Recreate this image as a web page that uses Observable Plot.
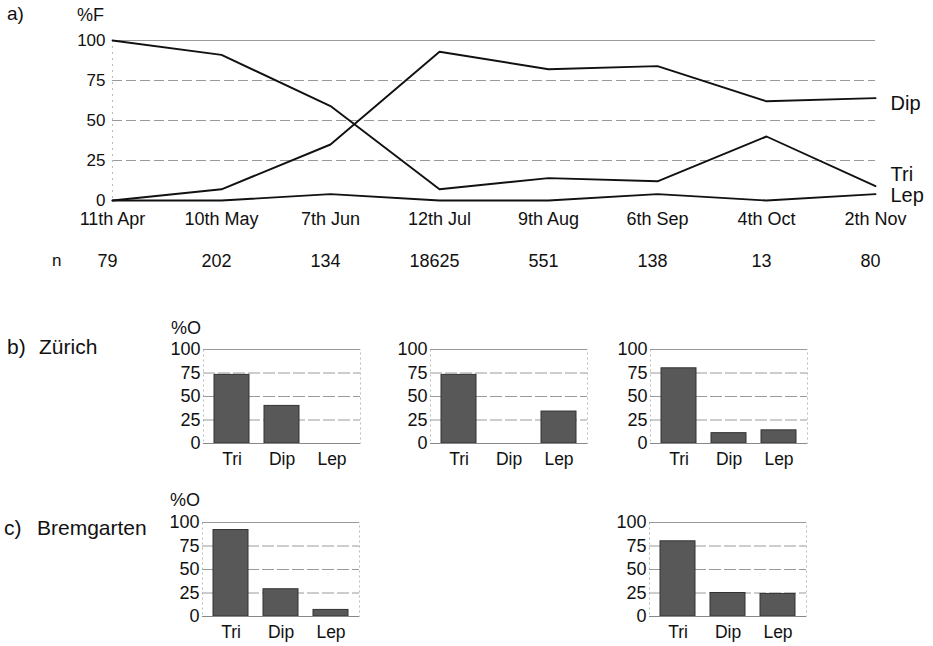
<!DOCTYPE html>
<html><head><meta charset="utf-8">
<script src="https://cdn.jsdelivr.net/npm/d3@7"></script>
<script src="https://cdn.jsdelivr.net/npm/@observablehq/plot@0.6"></script>
<style>
body{margin:0;background:#fff;font-family:"Liberation Sans",Arial,sans-serif;}
#root{position:relative;width:933px;height:646px;overflow:hidden;background:#fff;}
.lab{position:absolute;white-space:nowrap;color:#111;line-height:1;}
.chart{position:absolute;}
</style></head><body><div id="root"></div>
<script>
// ---- data: panel a) ----
const dates = ["11th Apr","10th May","7th Jun","12th Jul","9th Aug","6th Sep","4th Oct","2th Nov"];
const nValues = [79, 202, 134, 18625, 551, 138, 13, 80];
const triF = [100, 91, 59, 7, 14, 12, 40, 9];
const dipF = [0, 7, 35, 93, 82, 84, 62, 64];
const lepF = [0, 0, 4, 0, 0, 4, 0, 4];
const seriesNames = ["Tri", "Dip", "Lep"];
const yTicks = [0, 25, 50, 75, 100];

// ---- data: panels b) and c) ----
const taxa = ["Tri", "Dip", "Lep"];
const zurich1 = [73, 40, 0];
const zurich2 = [73, 0, 34];
const zurich3 = [80, 11, 14];
const bremgarten1 = [92, 29, 7];
const bremgarten3 = [80, 25, 24];

const FONT = '"Liberation Sans", Arial, sans-serif';
const root = document.getElementById("root");

function label(text, left, topPx, size) {
  const d = document.createElement("div");
  d.className = "lab";
  d.textContent = text;
  d.style.left = left + "px";
  d.style.top = topPx + "px";
  d.style.fontSize = size + "px";
  root.appendChild(d);
}
function place(el, left, topPx) {
  el.classList.add("chart");
  el.style.left = left + "px";
  el.style.top = topPx + "px";
  root.appendChild(el);
}

// ---- panel a) line chart ----
const allSeries = [triF, dipF, lepF];
const long = [];
seriesNames.forEach((s, k) => allSeries[k].forEach((v, i) => long.push({series: s, date: dates[i], value: v})));
const ends = seriesNames.map((s, k) => ({name: s, date: dates[dates.length - 1], value: allSeries[k][dates.length - 1]}));

const lineChart = Plot.plot({
  width: 933, height: 280,
  marginLeft: 112, marginRight: 58, marginTop: 40, marginBottom: 80,
  style: {fontFamily: FONT, fontSize: "17px", color: "#111", background: "transparent", overflow: "visible"},
  x: {type: "point", domain: dates, padding: 0, label: null},
  y: {domain: [0, 100], label: null},
  marks: [
    Plot.ruleY([25, 50, 75], {stroke: "#9a9a9a", strokeWidth: 1, strokeDasharray: "10,4"}),
    Plot.ruleY([100], {stroke: "#9a9a9a", strokeWidth: 1}),
    Plot.ruleX([dates[0]], {stroke: "#bbb", strokeDasharray: "2,4"}),
    Plot.axisY({ticks: yTicks, tickSize: 0, tickPadding: 7, fontSize: 17, label: null}),
    Plot.axisX({tickSize: 0, tickPadding: 12, fontSize: 18, label: null}),
    Plot.axisX({tickSize: 0, tickPadding: 54, fontSize: 18, dx: -5, label: null,
      tickFormat: d => String(nValues[dates.indexOf(d)])}),
    Plot.lineY(long, {x: "date", y: "value", z: "series", stroke: "#111", strokeWidth: 1.9}),
    Plot.text(ends.filter(d => d.name === "Dip"), {x: "date", y: "value", text: "name", textAnchor: "start", dx: 15, dy: 5, fontSize: 20, fill: "#111"}),
    Plot.text(ends.filter(d => d.name === "Tri"), {x: "date", y: "value", text: "name", textAnchor: "start", dx: 15, dy: -12, fontSize: 20, fill: "#111"}),
    Plot.text(ends.filter(d => d.name === "Lep"), {x: "date", y: "value", text: "name", textAnchor: "start", dx: 15, dy: 1, fontSize: 20, fill: "#111"})
  ]
});
place(lineChart, 0, 0);

label("a)", 7, 4, 19);
label("%F", 77, 6, 18);
label("n", 52, 252, 17);

// ---- bar charts ----
function barChart(values) {
  const rows = taxa.map((t, i) => ({taxon: t, value: values[i]}));
  return Plot.plot({
    width: 205, height: 138,
    marginLeft: 42, marginRight: 6, marginTop: 10, marginBottom: 34,
    style: {fontFamily: FONT, fontSize: "18px", color: "#111", background: "transparent", overflow: "visible"},
    x: {type: "band", domain: taxa, paddingInner: 0.3, paddingOuter: 0.2, label: null},
    y: {domain: [0, 100], label: null},
    marks: [
      Plot.frame({stroke: "#bbb", strokeDasharray: "2,3"}),
      Plot.ruleY([25, 50, 75], {stroke: "#9a9a9a", strokeDasharray: "12,3"}),
      Plot.ruleY([100], {stroke: "#9a9a9a"}),
      Plot.barY(rows, {x: "taxon", y: "value", fill: "#585858", stroke: "#333", strokeWidth: 1}),
      Plot.ruleY([0], {stroke: "#888"}),
      Plot.axisY({ticks: yTicks, tickSize: 0, tickPadding: 3, fontSize: 18, label: null}),
      Plot.axisX({tickSize: 0, tickPadding: 9, fontSize: 17.5, label: null})
    ]
  });
}

label("b)", 7, 336, 21);
label("Zürich", 39, 336, 21);
label("%O", 171, 319, 18);
place(barChart(zurich1), 203 - 42, 349 - 10);
place(barChart(zurich2), 430 - 42, 349 - 10);
place(barChart(zurich3), 650 - 42, 349 - 10);

label("c)", 4, 517, 21);
label("Bremgarten", 37, 517, 21);
label("%O", 170, 491, 18);
place(barChart(bremgarten1), 202 - 42, 522 - 10);
place(barChart(bremgarten3), 649 - 42, 522 - 10);
</script>
</body></html>
